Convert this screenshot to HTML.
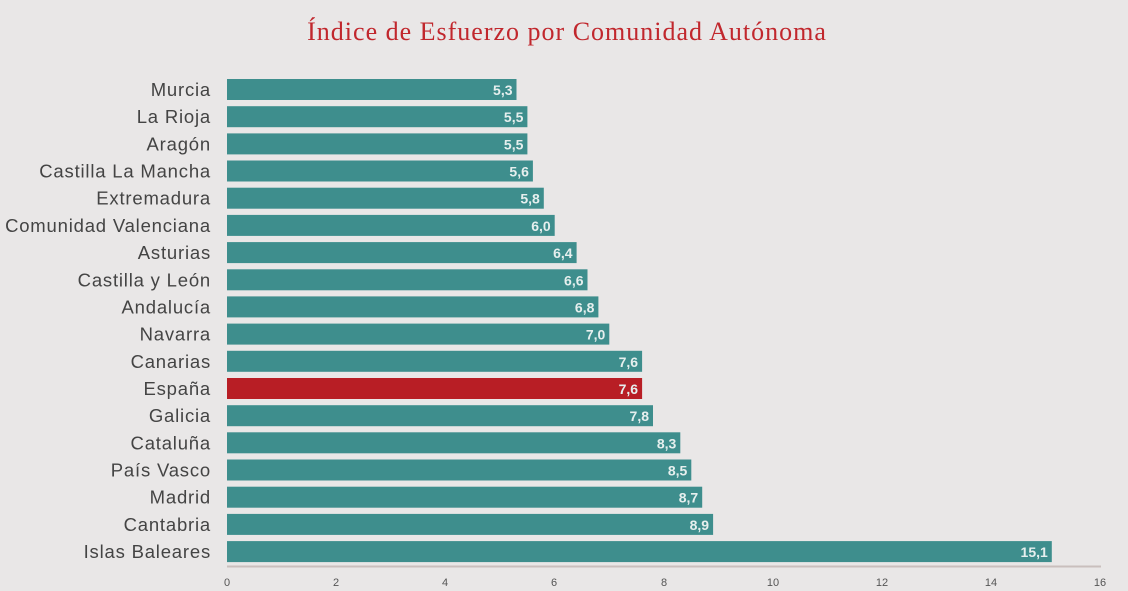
<!DOCTYPE html>
<html><head><meta charset="utf-8"><style>
html,body{margin:0;padding:0;background:#e9e7e7;}
svg{display:block}
</style></head><body>
<svg width="1128" height="591" xmlns="http://www.w3.org/2000/svg" font-family="Liberation Sans, sans-serif">
<rect width="1128" height="591" fill="#e9e7e7"/>
<text x="567" y="40" text-anchor="middle" font-family="Liberation Serif, serif" font-size="26" letter-spacing="1" fill="#c1272d">Índice de Esfuerzo por Comunidad Autónoma</text>
<g fill="#3e8e8d">
<rect x="227" y="79" width="289.5" height="21"/>
<rect x="227" y="106.2" width="300.4" height="21"/>
<rect x="227" y="133.4" width="300.4" height="21"/>
<rect x="227" y="160.5" width="305.9" height="21"/>
<rect x="227" y="187.7" width="316.8" height="21"/>
<rect x="227" y="214.9" width="327.7" height="21"/>
<rect x="227" y="242.1" width="349.6" height="21"/>
<rect x="227" y="269.3" width="360.5" height="21"/>
<rect x="227" y="296.4" width="371.4" height="21"/>
<rect x="227" y="323.6" width="382.3" height="21"/>
<rect x="227" y="350.8" width="415.1" height="21"/>
<rect x="227" y="378" width="415.1" height="21" fill="#b81e25"/>
<rect x="227" y="405.2" width="426.0" height="21"/>
<rect x="227" y="432.3" width="453.3" height="21"/>
<rect x="227" y="459.5" width="464.3" height="21"/>
<rect x="227" y="486.7" width="475.2" height="21"/>
<rect x="227" y="513.9" width="486.1" height="21"/>
<rect x="227" y="541.1" width="824.8" height="21"/>
</g>
<g font-size="14" font-weight="bold" fill="#e6efee" text-anchor="end">
<text x="512.5" y="95">5,3</text>
<text x="523.4" y="122.2">5,5</text>
<text x="523.4" y="149.4">5,5</text>
<text x="528.9" y="176.5">5,6</text>
<text x="539.8" y="203.7">5,8</text>
<text x="550.7" y="230.9">6,0</text>
<text x="572.6" y="258.1">6,4</text>
<text x="583.5" y="285.3">6,6</text>
<text x="594.4" y="312.4">6,8</text>
<text x="605.3" y="339.6">7,0</text>
<text x="638.1" y="366.8">7,6</text>
<text x="638.1" y="394">7,6</text>
<text x="649" y="421.2">7,8</text>
<text x="676.3" y="448.3">8,3</text>
<text x="687.3" y="475.5">8,5</text>
<text x="698.2" y="502.7">8,7</text>
<text x="709.1" y="529.9">8,9</text>
<text x="1047.8" y="557.1">15,1</text>
</g>
<g font-size="18.5" letter-spacing="0.8" fill="#444" text-anchor="end">
<text x="211" y="96">Murcia</text>
<text x="211" y="123.2">La Rioja</text>
<text x="211" y="150.4">Aragón</text>
<text x="211" y="177.5">Castilla La Mancha</text>
<text x="211" y="204.7">Extremadura</text>
<text x="211" y="231.9">Comunidad Valenciana</text>
<text x="211" y="259.1">Asturias</text>
<text x="211" y="286.3">Castilla y León</text>
<text x="211" y="313.4">Andalucía</text>
<text x="211" y="340.6">Navarra</text>
<text x="211" y="367.8">Canarias</text>
<text x="211" y="395">España</text>
<text x="211" y="422.2">Galicia</text>
<text x="211" y="449.3">Cataluña</text>
<text x="211" y="476.5">País Vasco</text>
<text x="211" y="503.7">Madrid</text>
<text x="211" y="530.9">Cantabria</text>
<text x="211" y="558.1">Islas Baleares</text>
</g>
<line x1="227" y1="566.5" x2="1101" y2="566.5" stroke="#c9bfbd" stroke-width="2"/>
<g font-size="11" fill="#555" text-anchor="middle">
<text x="227" y="586">0</text><text x="336" y="586">2</text><text x="445" y="586">4</text><text x="554" y="586">6</text><text x="664" y="586">8</text><text x="773" y="586">10</text><text x="882" y="586">12</text><text x="991" y="586">14</text><text x="1100" y="586">16</text>
</g>
</svg>
</body></html>
